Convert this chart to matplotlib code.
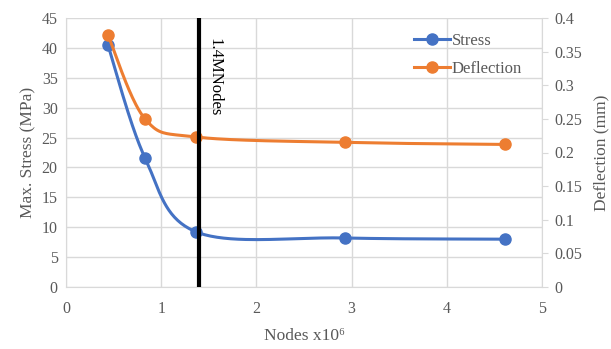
import numpy as np
import matplotlib
matplotlib.use("Agg")
import matplotlib.pyplot as plt

# data
nodes = [0.44, 0.83, 1.37, 2.93, 4.61]
stress = [40.5, 21.6, 9.2, 8.2, 8.0]
deflection = [0.375, 0.250, 0.223, 0.215, 0.212]
mesh_choice = 1.4

BLUE = "#4472C4"
ORANGE = "#ED7D31"
GREY = "#595959"
GRID = "#d9d9d9"


#########################################################
def smooth(x, y, n=40):
    # Excel-like smoothed line (Catmull-Rom bezier between the points)
    px = np.concatenate([[x[0]], x, [x[-1]]]).astype(float)
    py = np.concatenate([[y[0]], y, [y[-1]]]).astype(float)
    xs, ys = [], []
    t = np.linspace(0, 1, n)[:, None]
    for i in range(1, len(px) - 2):
        p0 = np.array([px[i], py[i]])
        p3 = np.array([px[i + 1], py[i + 1]])
        p1 = p0 + (np.array([px[i + 1], py[i + 1]]) - np.array([px[i - 1], py[i - 1]])) / 6
        p2 = p3 - (np.array([px[i + 2], py[i + 2]]) - np.array([px[i], py[i]])) / 6
        b = (1 - t) ** 3 * p0 + 3 * (1 - t) ** 2 * t * p1 + 3 * (1 - t) * t ** 2 * p2 + t ** 3 * p3
        xs.extend(b[:, 0])
        ys.extend(b[:, 1])
    return np.array(xs), np.array(ys)


#########################################################
plt.rcParams['font.family'] = ['Liberation Serif', 'DejaVu Serif']

fig = plt.figure(figsize=(6.11, 3.49), dpi=100)
ax = fig.add_axes([66 / 611, 1 - 287 / 349, 476 / 611, 269 / 349])
ax2 = ax.twinx()

ax.set_xlim(0, 5)
ax.set_ylim(0, 45)
ax.set_xticks(range(0, 6))
ax.set_yticks(range(0, 46, 5))
ax2.set_ylim(0, 0.4)
ax2.set_yticks(np.arange(0, 0.41, 0.05))
ax2.set_yticklabels(["0", "0.05", "0.1", "0.15", "0.2", "0.25", "0.3", "0.35", "0.4"])

ax.grid(True, color=GRID, linewidth=1)
ax.set_axisbelow(True)
for a in (ax, ax2):
    for s in a.spines.values():
        s.set_visible(False)
ax.spines['bottom'].set_visible(True)
ax.spines['bottom'].set_color(GRID)
ax.spines['left'].set_visible(True)
ax.spines['left'].set_color(GRID)
ax2.spines['right'].set_visible(True)
ax2.spines['right'].set_color(GRID)

ax.tick_params(axis='both', length=0, labelsize=11.5, labelcolor=GREY, pad=6)
ax.tick_params(axis='x', pad=10)
ax2.tick_params(axis='y', length=4, color=GRID, labelsize=11.5, labelcolor=GREY, pad=5)

sx, sy = smooth(nodes, stress)
dx, dy = smooth(nodes, deflection)
ax.plot(sx, sy, color=BLUE, linewidth=2.2, zorder=3)
ax.plot(nodes, stress, 'o', color=BLUE, markersize=8, zorder=4)
ax2.plot(dx, dy, color=ORANGE, linewidth=2.2, zorder=3)
ax2.plot(nodes, deflection, 'o', color=ORANGE, markersize=8, zorder=4)

ax2.axvline(mesh_choice, color='black', linewidth=3, zorder=5)
ax2.text(mesh_choice + 0.08, 0.37, "1.4MNodes", rotation=-90, va='top', ha='left',
         fontsize=12, color='black')

ax.set_xlabel("Nodes x10\u2076", fontsize=12.5, color=GREY, labelpad=8)
ax.set_ylabel("Max. Stress (MPa)", fontsize=12.5, color=GREY, labelpad=4)
ax2.set_ylabel("Deflection (mm)", fontsize=12.5, color=GREY, labelpad=8)

h1 = plt.Line2D([], [], color=BLUE, linewidth=2.2, marker='o', markersize=8)
h2 = plt.Line2D([], [], color=ORANGE, linewidth=2.2, marker='o', markersize=8)
leg = ax2.legend([h1, h2], ["Stress", "Deflection"], loc='upper right',
                 bbox_to_anchor=(0.99, 1.0), frameon=False, fontsize=12,
                 handlelength=2.2, handletextpad=0.1, labelspacing=0.7)
for t in leg.get_texts():
    t.set_color(GREY)

fig.savefig("out.png", dpi=100)
